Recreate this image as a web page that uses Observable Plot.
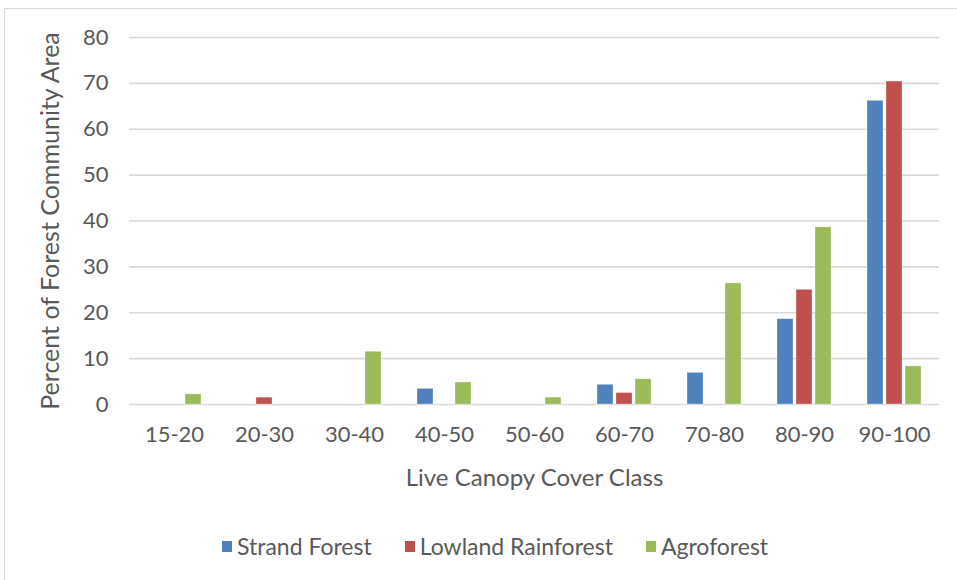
<!DOCTYPE html>
<html>
<head>
<meta charset="utf-8">
<script src="https://cdn.jsdelivr.net/npm/d3@7"></script>
<script src="https://cdn.jsdelivr.net/npm/@observablehq/plot@0.6"></script>
<style>
  html, body { margin: 0; padding: 0; background: #fff; }
  body { width: 957px; height: 580px; position: relative; overflow: hidden; font-family: Lato, "Open Sans", sans-serif; }
  #border { position: absolute; left: 4px; top: 8px; width: 980px; height: 600px; border: 1px solid #d9d9d9; box-sizing: border-box; }
  #chart { position: absolute; left: 0; top: 0; }
  #legend { position: absolute; left: 222px; top: 532px; display: flex; align-items: center; gap: 33px; font-size: 23px; color: #595959; }
  .item { display: flex; align-items: center; }
  .sw { width: 10px; height: 11px; margin-right: 5px; }
</style>
</head>
<body>
<div id="border"></div>
<div id="chart"></div>
<div id="legend"></div>
<script>
const classes = ["15-20", "20-30", "30-40", "40-50", "50-60", "60-70", "70-80", "80-90", "90-100"];
const seriesNames = ["Strand Forest", "Lowland Rainforest", "Agroforest"];
const strandForest = [0, 0, 0, 3.4, 0, 4.3, 6.9, 18.6, 66.2];
const lowlandRainforest = [0, 1.5, 0, 0, 0, 2.5, 0, 25.0, 70.4];
const agroforest = [2.2, 0, 11.5, 4.8, 1.5, 5.5, 26.4, 38.6, 8.3];
const seriesColors = ["#4F81BD", "#C0504D", "#9BBB59"];
const yTicks = [0, 10, 20, 30, 40, 50, 60, 70, 80];
const yLabel = "Percent of Forest Community Area";
const xLabel = "Live Canopy Cover Class";

const seriesValues = [strandForest, lowlandRainforest, agroforest];
const data = [];
classes.forEach((c, i) => {
  seriesNames.forEach((s, j) => {
    if (seriesValues[j][i] > 0) data.push({cls: c, series: s, value: seriesValues[j][i]});
  });
});

const chart = Plot.plot({
  width: 957,
  height: 500,
  marginLeft: 128,
  marginRight: 17,
  marginTop: 37,
  marginBottom: 96,
  style: {fontFamily: "Lato, 'Open Sans', sans-serif", fontSize: "22px", color: "#595959", background: "transparent", overflow: "visible"},
  fx: {domain: classes, padding: 0},
  x: {domain: seriesNames, axis: null, paddingInner: 0.16, paddingOuter: 0.94},
  y: {domain: [0, 80]},
  color: {domain: seriesNames, range: seriesColors},
  marks: [
    Plot.ruleY(yTicks, {stroke: "#d9d9d9", strokeWidth: 1.6}),
    Plot.barY(data, {fx: "cls", x: "series", y: "value", fill: "series", stroke: "#ffffff", strokeOpacity: 0.5, strokeWidth: 0.6}),
    Plot.axisY(yTicks, {tickSize: 0, tickPadding: 21, label: null, fill: "#595959", fontSize: 22}),
    Plot.axisY([], {label: yLabel, labelAnchor: "center", labelArrow: "none", labelOffset: 88, fill: "#595959", fontSize: 25}),
    Plot.axisFx({anchor: "bottom", tickSize: 0, tickPadding: 22, label: null, fill: "#595959", fontSize: 22}),
    Plot.axisFx([], {anchor: "bottom", label: xLabel, labelAnchor: "center", labelArrow: "none", labelOffset: 81, fill: "#595959", fontSize: 24})
  ]
});
document.getElementById("chart").appendChild(chart);

const legend = document.getElementById("legend");
seriesNames.forEach((s, j) => {
  const item = document.createElement("div");
  item.className = "item";
  const sw = document.createElement("span");
  sw.className = "sw";
  sw.style.background = seriesColors[j];
  const t = document.createElement("span");
  t.textContent = s;
  item.appendChild(sw);
  item.appendChild(t);
  legend.appendChild(item);
});
</script>
</body>
</html>
